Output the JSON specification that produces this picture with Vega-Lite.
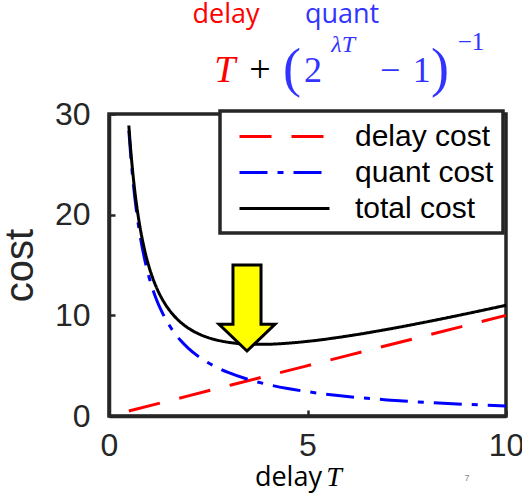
{
  "$schema": "https://vega.github.io/schema/vega-lite/v6.json",
  "autosize": "none",
  "width": 397,
  "height": 302,
  "padding": {"left": 109, "top": 114, "right": 16, "bottom": 82},
  "background": "white",
  "config": {
    "view": {"stroke": "#262626", "strokeWidth": 3.5},
    "axis": {
      "grid": false,
      "domainColor": "#262626",
      "domainWidth": 3.5,
      "tickColor": "#262626",
      "tickWidth": 2.5,
      "tickSize": -6,
      "labelFont": "Liberation Sans",
      "labelFontSize": 32,
      "labelColor": "#262626",
      "labelFlush": false,
      "labelOverlap": false,
      "titleFontWeight": "normal",
      "titleColor": "#000000"
    },
    "legend": {
      "orient": "none",
      "legendX": 111,
      "legendY": -3,
      "labelFont": "Liberation Sans",
      "labelFontSize": 30,
      "labelColor": "#000000",
      "symbolType": "M-0.4,0H5.6",
      "symbolSize": 900,
      "symbolStrokeWidth": 3,
      "strokeColor": "#262626",
      "strokeWidth": 3.5,
      "fillColor": "white",
      "padding": 9,
      "rowPadding": 4,
      "labelOffset": 93
    }
  },
  "layer": [
    {
      "data": {
        "values": [
          {"T": 0.5, "series": "delay cost", "cost": 0.5},
          {"T": 2, "series": "delay cost", "cost": 2},
          {"T": 4, "series": "delay cost", "cost": 4},
          {"T": 6, "series": "delay cost", "cost": 6},
          {"T": 8, "series": "delay cost", "cost": 8},
          {"T": 10, "series": "delay cost", "cost": 10},
          {"T": 0.5, "series": "quant cost", "cost": 28.357},
          {"T": 0.55, "series": "quant cost", "cost": 25.734},
          {"T": 0.6, "series": "quant cost", "cost": 23.548},
          {"T": 0.65, "series": "quant cost", "cost": 21.699},
          {"T": 0.7, "series": "quant cost", "cost": 20.114},
          {"T": 0.75, "series": "quant cost", "cost": 18.74},
          {"T": 0.8, "series": "quant cost", "cost": 17.538},
          {"T": 0.9, "series": "quant cost", "cost": 15.535},
          {"T": 1.0, "series": "quant cost", "cost": 13.933},
          {"T": 1.1, "series": "quant cost", "cost": 12.622},
          {"T": 1.2, "series": "quant cost", "cost": 11.529},
          {"T": 1.3, "series": "quant cost", "cost": 10.605},
          {"T": 1.4, "series": "quant cost", "cost": 9.813},
          {"T": 1.6, "series": "quant cost", "cost": 8.526},
          {"T": 1.8, "series": "quant cost", "cost": 7.525},
          {"T": 2.0, "series": "quant cost", "cost": 6.725},
          {"T": 2.25, "series": "quant cost", "cost": 5.925},
          {"T": 2.5, "series": "quant cost", "cost": 5.285},
          {"T": 2.75, "series": "quant cost", "cost": 4.762},
          {"T": 3.0, "series": "quant cost", "cost": 4.326},
          {"T": 3.5, "series": "quant cost", "cost": 3.642},
          {"T": 4.0, "series": "quant cost", "cost": 3.13},
          {"T": 4.5, "series": "quant cost", "cost": 2.732},
          {"T": 5, "series": "quant cost", "cost": 2.414},
          {"T": 6, "series": "quant cost", "cost": 1.939},
          {"T": 7, "series": "quant cost", "cost": 1.601},
          {"T": 8, "series": "quant cost", "cost": 1.35},
          {"T": 9, "series": "quant cost", "cost": 1.155},
          {"T": 10, "series": "quant cost", "cost": 1.0},
          {"T": 0.5, "series": "total cost", "cost": 28.857},
          {"T": 0.55, "series": "total cost", "cost": 26.284},
          {"T": 0.6, "series": "total cost", "cost": 24.148},
          {"T": 0.65, "series": "total cost", "cost": 22.349},
          {"T": 0.7, "series": "total cost", "cost": 20.814},
          {"T": 0.75, "series": "total cost", "cost": 19.49},
          {"T": 0.8, "series": "total cost", "cost": 18.338},
          {"T": 0.9, "series": "total cost", "cost": 16.435},
          {"T": 1.0, "series": "total cost", "cost": 14.933},
          {"T": 1.1, "series": "total cost", "cost": 13.722},
          {"T": 1.2, "series": "total cost", "cost": 12.729},
          {"T": 1.3, "series": "total cost", "cost": 11.905},
          {"T": 1.4, "series": "total cost", "cost": 11.213},
          {"T": 1.6, "series": "total cost", "cost": 10.126},
          {"T": 1.8, "series": "total cost", "cost": 9.325},
          {"T": 2.0, "series": "total cost", "cost": 8.725},
          {"T": 2.25, "series": "total cost", "cost": 8.175},
          {"T": 2.5, "series": "total cost", "cost": 7.785},
          {"T": 2.75, "series": "total cost", "cost": 7.512},
          {"T": 3.0, "series": "total cost", "cost": 7.326},
          {"T": 3.5, "series": "total cost", "cost": 7.142},
          {"T": 4.0, "series": "total cost", "cost": 7.13},
          {"T": 4.5, "series": "total cost", "cost": 7.232},
          {"T": 5, "series": "total cost", "cost": 7.414},
          {"T": 6, "series": "total cost", "cost": 7.939},
          {"T": 7, "series": "total cost", "cost": 8.601},
          {"T": 8, "series": "total cost", "cost": 9.35},
          {"T": 9, "series": "total cost", "cost": 10.155},
          {"T": 10, "series": "total cost", "cost": 11.0}
        ]
      },
      "mark": {"type": "line", "strokeWidth": 3, "interpolate": "monotone"},
      "encoding": {
        "x": {
          "field": "T", "type": "quantitative",
          "scale": {"domain": [0, 10], "nice": false, "zero": false},
          "axis": {"values": [0, 5, 10], "labelPadding": 20, "title": null}
        },
        "y": {
          "field": "cost", "type": "quantitative",
          "scale": {"domain": [0, 30], "nice": false},
          "axis": {"values": [0, 10, 20, 30], "labelPadding": 25, "title": "cost", "titleFont": "Liberation Sans", "titleFontSize": 40, "titleColor": "#262626", "titlePadding": 14}
        },
        "color": {
          "field": "series", "type": "nominal", "title": null,
          "scale": {"domain": ["delay cost", "quant cost", "total cost"], "range": ["#ff0000", "#0000ff", "#000000"]}
        },
        "strokeDash": {
          "field": "series", "type": "nominal", "title": null,
          "scale": {"domain": ["delay cost", "quant cost", "total cost"], "range": [[32, 20], [28, 10, 6, 10], [1, 0]]}
        }
      }
    },
    {
      "data": {"values": [{"label": "minimum"}]},
      "mark": {"type": "point", "shape": "M-0.326,-1L0.326,-1L0.326,0.38L0.65,0.38L0,1L-0.65,0.38L-0.326,0.38Z", "filled": true, "fill": "#ffff00", "stroke": "#000000", "strokeWidth": 3, "opacity": 1, "size": 7396},
      "encoding": {"x": {"datum": 3.476, "type": "quantitative"}, "y": {"datum": 10.73, "type": "quantitative"}}
    },
    {
      "data": {"values": [{"label": "delay"}]},
      "mark": {"type": "text", "font": "Open Sans", "fontSize": 27, "color": "#ff0000", "baseline": "alphabetic", "align": "center", "text": "delay"},
      "encoding": {"x": {"datum": 2.947, "type": "quantitative"}, "y": {"datum": 39.0, "type": "quantitative"}}
    },
    {
      "data": {"values": [{"label": "quant"}]},
      "mark": {"type": "text", "font": "Open Sans", "fontSize": 27, "color": "#3333ff", "baseline": "alphabetic", "align": "center", "text": "quant"},
      "encoding": {"x": {"datum": 5.87, "type": "quantitative"}, "y": {"datum": 39.0, "type": "quantitative"}}
    },
    {
      "data": {"values": [{"label": "T"}]},
      "mark": {"type": "text", "font": "Liberation Serif", "fontStyle": "italic", "fontSize": 38, "color": "#ff0000", "baseline": "alphabetic", "align": "center", "text": "T"},
      "encoding": {"x": {"datum": 2.92, "type": "quantitative"}, "y": {"datum": 33.13, "type": "quantitative"}}
    },
    {
      "data": {"values": [{"label": "+"}]},
      "mark": {"type": "text", "font": "Liberation Serif", "fontSize": 38, "color": "#000000", "baseline": "alphabetic", "align": "center", "text": "+"},
      "encoding": {"x": {"datum": 3.8, "type": "quantitative"}, "y": {"datum": 33.13, "type": "quantitative"}}
    },
    {
      "data": {"values": [{"label": "("}]},
      "mark": {"type": "text", "font": "Liberation Serif", "fontSize": 54, "color": "#3333ff", "baseline": "alphabetic", "align": "center", "text": "("},
      "encoding": {"x": {"datum": 4.61, "type": "quantitative"}, "y": {"datum": 32.83, "type": "quantitative"}}
    },
    {
      "data": {"values": [{"label": "2"}]},
      "mark": {"type": "text", "font": "Liberation Serif", "fontSize": 36, "color": "#3333ff", "baseline": "alphabetic", "align": "center", "text": "2"},
      "encoding": {"x": {"datum": 5.14, "type": "quantitative"}, "y": {"datum": 33.13, "type": "quantitative"}}
    },
    {
      "data": {"values": [{"label": "lambdaT"}]},
      "mark": {"type": "text", "font": "Liberation Serif", "fontStyle": "italic", "fontSize": 24, "color": "#3333ff", "baseline": "alphabetic", "align": "center", "text": "λT"},
      "encoding": {"x": {"datum": 5.9, "type": "quantitative"}, "y": {"datum": 36.2, "type": "quantitative"}}
    },
    {
      "data": {"values": [{"label": "minus"}]},
      "mark": {"type": "text", "font": "Liberation Serif", "fontSize": 36, "color": "#3333ff", "baseline": "alphabetic", "align": "center", "text": "−"},
      "encoding": {"x": {"datum": 7.08, "type": "quantitative"}, "y": {"datum": 33.13, "type": "quantitative"}}
    },
    {
      "data": {"values": [{"label": "1"}]},
      "mark": {"type": "text", "font": "Liberation Serif", "fontSize": 36, "color": "#3333ff", "baseline": "alphabetic", "align": "center", "text": "1"},
      "encoding": {"x": {"datum": 7.88, "type": "quantitative"}, "y": {"datum": 33.13, "type": "quantitative"}}
    },
    {
      "data": {"values": [{"label": ")"}]},
      "mark": {"type": "text", "font": "Liberation Serif", "fontSize": 54, "color": "#3333ff", "baseline": "alphabetic", "align": "center", "text": ")"},
      "encoding": {"x": {"datum": 8.34, "type": "quantitative"}, "y": {"datum": 32.83, "type": "quantitative"}}
    },
    {
      "data": {"values": [{"label": "-1"}]},
      "mark": {"type": "text", "font": "Liberation Serif", "fontSize": 25, "color": "#3333ff", "baseline": "alphabetic", "align": "center", "text": "−1"},
      "encoding": {"x": {"datum": 9.12, "type": "quantitative"}, "y": {"datum": 36.4, "type": "quantitative"}}
    },
    {
      "data": {"values": [{"label": "xdelay"}]},
      "mark": {"type": "text", "font": "Open Sans", "fontSize": 27, "color": "#000000", "baseline": "alphabetic", "align": "center", "text": "delay"},
      "encoding": {"x": {"datum": 4.52, "type": "quantitative"}, "y": {"datum": -7.0, "type": "quantitative"}}
    },
    {
      "data": {"values": [{"label": "xT"}]},
      "mark": {"type": "text", "font": "Liberation Serif", "fontStyle": "italic", "fontSize": 28, "color": "#000000", "baseline": "alphabetic", "align": "center", "text": "T"},
      "encoding": {"x": {"datum": 5.67, "type": "quantitative"}, "y": {"datum": -7.0, "type": "quantitative"}}
    },
    {
      "data": {"values": [{"label": "page"}]},
      "mark": {"type": "text", "font": "Liberation Sans", "fontSize": 9, "color": "#888888", "baseline": "alphabetic", "align": "center", "text": "7"},
      "encoding": {"x": {"datum": 9.02, "type": "quantitative"}, "y": {"datum": -6.5, "type": "quantitative"}}
    }
  ]
}
